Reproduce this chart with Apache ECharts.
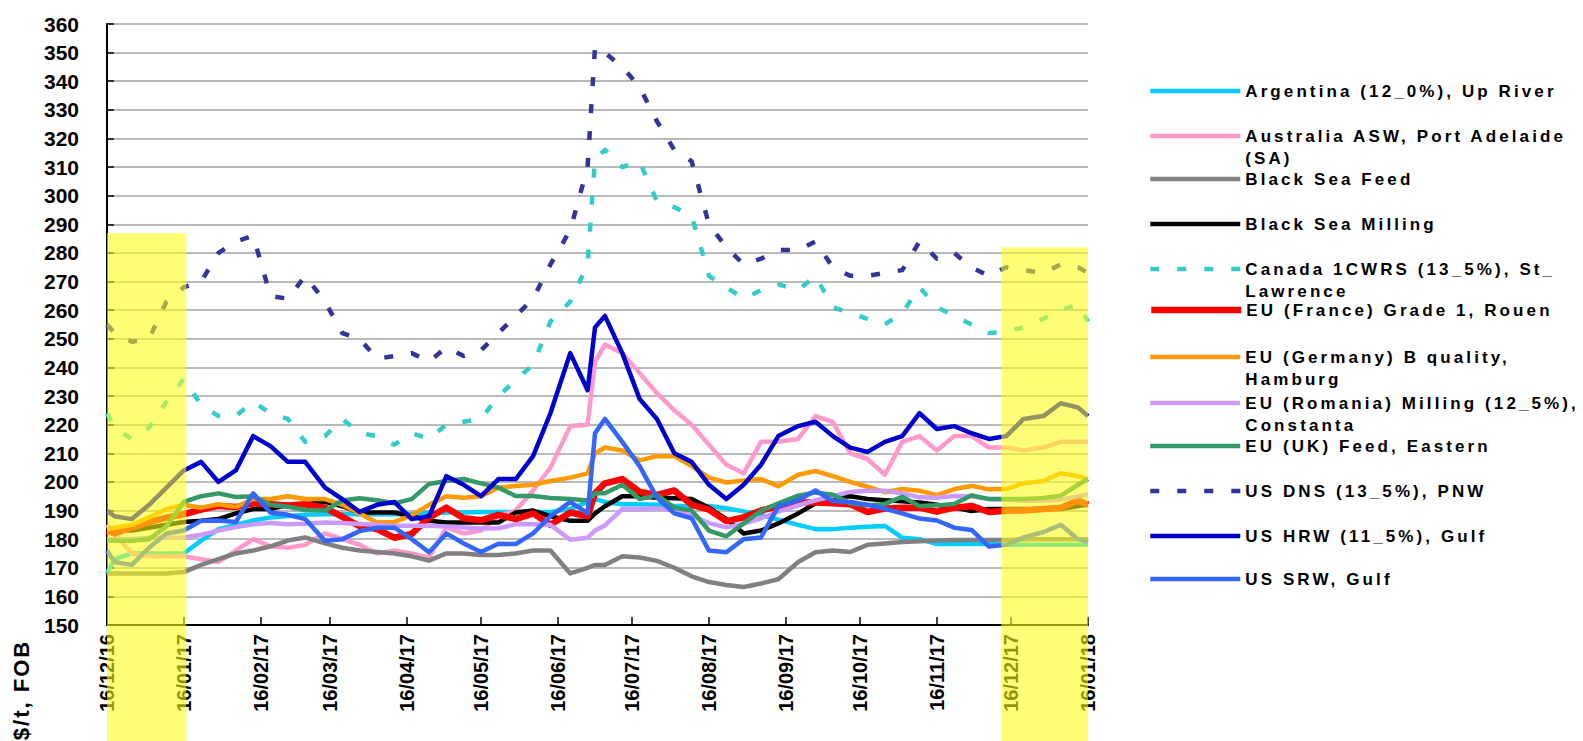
<!DOCTYPE html>
<html><head><meta charset="utf-8">
<script src="https://cdn.jsdelivr.net/npm/echarts@6/dist/echarts.min.js"></script>
<style>
html,body{margin:0;padding:0;background:#fff;}
#chart{width:1583px;height:741px;}
#chart svg text[style*="17px"]{letter-spacing:3.1px;}
#chart svg text[style*="22px"]{letter-spacing:2px;}
</style></head><body><div id="chart"></div>
<script>
// ---------- DATA ----------
const dates = ['2016-12-16','2016-12-19','2016-12-26','2017-01-02','2017-01-09','2017-01-16','2017-01-23','2017-01-30','2017-02-06','2017-02-13','2017-02-20','2017-02-27','2017-03-06','2017-03-14','2017-03-21','2017-03-28','2017-04-04','2017-04-11','2017-04-18','2017-04-25','2017-05-02','2017-05-09','2017-05-16','2017-05-23','2017-05-30','2017-06-06','2017-06-13','2017-06-21','2017-06-28','2017-07-01','2017-07-05','2017-07-12','2017-07-19','2017-07-26','2017-08-02','2017-08-09','2017-08-16','2017-08-23','2017-08-30','2017-09-06','2017-09-13','2017-09-21','2017-09-28','2017-10-05','2017-10-12','2017-10-19','2017-10-26','2017-11-02','2017-11-09','2017-11-16','2017-11-23','2017-11-30','2017-12-07','2017-12-14','2017-12-21','2017-12-29','2018-01-05','2018-01-12','2018-01-16'];

const tickDates = ['2016-12-16','2017-01-16','2017-02-16','2017-03-16','2017-04-16','2017-05-16','2017-06-16','2017-07-16','2017-08-16','2017-09-16','2017-10-16','2017-11-16','2017-12-16','2018-01-16'];

const names = ['Argentina (12_0%), Up River','Australia ASW, Port Adelaide (SA)','Black Sea Feed','Black Sea Milling','Canada 1CWRS (13_5%), St_ Lawrence','EU (France) Grade 1, Rouen','EU (Germany) B quality, Hamburg','EU (Romania) Milling (12_5%), Constanta','EU (UK) Feed, Eastern','US DNS (13_5%), PNW','US HRW (11_5%), Gulf','US SRW, Gulf'];

const legendLabels = ['Argentina (12_0%), Up River','\nAustralia ASW, Port Adelaide\n(SA)','Black Sea Feed','Black Sea Milling','\nCanada 1CWRS (13_5%), St_\nLawrence','EU (France) Grade 1, Rouen','\nEU (Germany) B quality,\nHamburg','\nEU (Romania) Milling (12_5%),\nConstanta','EU (UK) Feed, Eastern','US DNS (13_5%), PNW','US HRW (11_5%), Gulf','US SRW, Gulf'];

const argentina = [168,173,175,175,175,175,179.5,183.5,185,186.5,187.6,188.1,188.5,188.7,188.7,188.7,188.7,188.7,188.7,189.3,189.3,189.3,189.5,189.5,189.5,189.5,189.5,190.5,193,194,193,192.2,192.2,192,191.6,191.6,191.6,190.8,189.7,188.5,186.8,185,183.5,183.5,184,184.3,184.6,180.5,180,178.3,178.3,178.3,178.3,178,178,178,178,178,178];
const australia = [185,182,175,174,174,174,173,172,176,180,177.5,177,178,182,180,178,175,176,175,173.5,184,182,183,188,190,197,205,219.5,220,242,248,245,238,231,225,220,213,206,203,214,214,215,223,221,210,208,202.5,214,216,211,216,216,212,212,211,212,214,214,214];
const blackSeaFeed = [168,168,168,168,168,168.5,171,173,175,176,177.5,179.5,180.6,178.5,177,176,175.5,175,174,172.5,175,175,174.5,174.5,175,176,176,168,170,171,171,174,173.6,172.4,170,167,165,164,163.3,164.5,166,172,175.4,176,175.5,178,178.5,179,179.3,179.5,179.7,179.7,179.7,179.7,180,180,180,180,180];
const blackSeaMilling = [183,183,183,184,185,186,186.4,187,189,190.5,190.5,192,192.2,193,191.5,189.3,189.3,189.3,188,186.4,185.8,185.8,185.8,185.8,189.3,190,188,186.4,186.4,189,191.5,195,195,194.5,194.3,194,191,187,182,183,185.5,189,192.5,194.8,195,194,193.6,193.2,192.8,192,191,189.8,190.5,190.5,190.5,190.5,190.5,191.6,192];
const canada = [224,219,215,219,228,236,227,223,223,228,224,222,214,216,222,217,216,213,217,215,220,221,222,230,235.5,241,256,263,276,313,316,310,312,298,296,293,272,268,264,267,269,267,272,261,259,257,255,259,268,261,258,255,252,252.5,254,257,260,262,256];
const euFrance = [183,182,184,186,187.5,188.7,190.3,191.6,191.2,192.5,192.2,191.8,192.2,191,187.8,184.5,183.5,180.5,181.8,187.5,191,187.3,186.6,188.5,187,189,185,189.3,188,196,199.5,201,196.5,195.5,197,192,190.3,186.3,187.6,190,191.5,192.8,192.8,192.5,192.2,189.5,190.7,191,191,189.6,191,191.6,189.5,189.9,190,190.5,191,193.5,192];
const euGermany = [183.5,184,185,187.6,190.5,192,191,192.2,191.2,194,194,195,194,194,192,189,185.8,186,188.3,192,195,194.5,195,198,198.6,199,200.3,201.5,203,210,212,211,207.5,209,209,205.5,201.5,199.8,200.5,201,198.5,202.5,203.8,202,200,198.3,196.4,197.5,196.9,195.4,197.5,198.6,197.4,197.5,199.5,200.3,203,202,201];
const euRomania = [180,180,180,180.5,180.5,180.6,181.5,183,184.2,185.2,185.6,185.2,185.4,185.8,185.6,185.3,185,184.7,184.7,184.7,184.4,184.1,183.7,183.8,185.2,185.2,185,179.8,180.5,183,184.8,190.5,190.5,190.8,190,188.3,185.6,184.1,185.4,187.3,189.6,191.8,193.6,195,196.5,196.9,196.9,196,194.6,194.5,195.1,195,194,193.8,193.4,193.4,193.8,195,195.7];
const euUK = [179.5,179.4,179.4,180,184.5,193,195,196,194.7,195,192,191.3,190.2,190,193.5,194.3,193.6,192.5,194,199.3,200.3,201,199.5,198,195.1,195.1,194.4,194,193.5,196,196,199,194,195.4,191,190,183,181,185.5,189.9,192.5,195.2,196.3,195.5,192.5,191.8,192.3,194.8,191.6,191.8,192.3,195.3,194,194,194,194.4,195.2,199,201];
const usDNS = [255,252,249,250,263,268,270,280,284,286,265,264,272,263,252,250,243,244,245,242,247,244,246,252,258,264,276,288,310,352,350,345,338,326,316,312,290,282,276,278,281,281,284,275,272,272,273,274,284,278,280,275,272,275,274,273,276,275,273];
const usHRW = [190,188,187,192,198,204,207,200,204,216,212.5,207,207,198,194,189.5,192,193,187,188,202,199,195,201,201,209,224,245,232,254,258,245,229,222,210,207,199,194,199,206,216,219.5,221,216,212,210.5,214,216,224,218.5,219.5,217,215,216,222,223,227.5,226,223];
const usSRW = [176,172,171,177,182,183,186.4,186.5,186,196,189.3,188.5,187,179.4,180,182.8,184,184,180,175.4,182,178.5,175.5,178.4,178.3,182,188,193,189,217,222,214,205.5,194.5,189,187.3,176,175.4,180,180.6,191.5,193.6,197,193.3,193,192,190.6,189,187.2,186.5,184,183.2,177.4,178,180.6,182.5,185,180,179];

// highlighted periods
const highlightFrom = ['2016-12-16','2017-12-12'];
const highlightTo = ['2017-01-17','2018-01-16'];
const highlightTop = [287, 282];

// ---------- STYLE / LAYOUT ----------
const seriesValues = [argentina,australia,blackSeaFeed,blackSeaMilling,canada,euFrance,euGermany,euRomania,euUK,usDNS,usHRW,usSRW];
const styles = [
  {color:'#00CCFF', width:4.5},
  {color:'#FF99CC', width:4.5},
  {color:'#808080', width:4.5},
  {color:'#000000', width:4.5},
  {color:'#33CCCC', width:4.5, dash:[9,18]},
  {color:'#FF0000', width:6.5},
  {color:'#FF9900', width:4.5},
  {color:'#CC99FF', width:4.5},
  {color:'#339966', width:4.5},
  {color:'#333399', width:4.5, dash:[9,18]},
  {color:'#0000CC', width:4.5},
  {color:'#3366FF', width:4.5}
];
const legendIconY = [91,136,179,224,269,310,357,403,446,491,536,579];
const FONT = '"Liberation Sans", Arial, sans-serif';

const utc = s => { const p = s.split('-'); return Date.UTC(+p[0], +p[1]-1, +p[2]); };
const ORIGIN = utc(dates[0]);
const dayOf = s => Math.round((utc(s) - ORIGIN) / 86400000);
const pad = n => (n < 10 ? '0' : '') + n;
const fmtDay = v => { const d = new Date(ORIGIN + Math.round(v) * 86400000); return pad(d.getUTCDate()) + '/' + pad(d.getUTCMonth()+1) + '/' + pad(d.getUTCFullYear() % 100); };
const tickDays = tickDates.map(dayOf);

const series = names.map((n, i) => ({
  type:'line', name:n, symbol:'none', showSymbol:false, animation:false, z:2,
  color: styles[i].color,
  lineStyle:{color:styles[i].color, width:styles[i].width, type:styles[i].dash || 'solid', join:'round'},
  data: dates.map((d, k) => [dayOf(d), seriesValues[i][k]])
}));
series.push({
  type:'line', name:'highlight', data:[], silent:true, clip:false, z:10, animation:false,
  markArea:{silent:true, z:10, itemStyle:{color:'rgba(255,255,20,0.58)'},
    data: highlightFrom.map((f, i) => [{xAxis: dayOf(f), yAxis: highlightTop[i]}, {xAxis: dayOf(highlightTo[i]), y: '100%'}])}
});

const legend = names.map((n, i) => ({
  show:true, orient:'vertical', left:1148,
  top: legendIconY[i] - (legendLabels[i].charAt(0) === '\n' ? 33 : 11),
  padding:0, itemWidth:90, itemHeight:14, itemGap:0, selectedMode:false,
  data:[n], formatter: () => legendLabels[i],
  itemStyle:{opacity:0},
  lineStyle:{width: styles[i].width, color: styles[i].color, type: styles[i].dash || 'solid'},
  textStyle:{fontFamily:FONT, fontWeight:'bold', fontSize:17, color:'#000', lineHeight:22}
}));

const chart = echarts.init(document.getElementById('chart'), null, {renderer:'svg', width:1583, height:741});
chart.setOption({
  animation:false,
  backgroundColor:'#fff',
  grid:{left:107, right:495, top:24, bottom:116, containLabel:false},
  xAxis:{
    type:'value', min:0, max:dayOf(tickDates[tickDates.length-1]),
    axisLine:{show:true, onZero:false, lineStyle:{color:'#000', width:2}},
    axisTick:{show:true, inside:true, length:8, customValues:tickDays, lineStyle:{color:'#000', width:1.5}},
    axisLabel:{customValues:tickDays, rotate:90, margin:9, hideOverlap:false, formatter: v => fmtDay(v),
      fontFamily:FONT, fontWeight:'bold', fontSize:20, color:'#000'},
    splitLine:{show:false}
  },
  yAxis:{
    type:'value', min:150, max:360, interval:10,
    axisLine:{show:true, lineStyle:{color:'#000', width:2}},
    axisTick:{show:true, inside:true, length:7, lineStyle:{color:'#000', width:1.5}},
    axisLabel:{fontFamily:FONT, fontWeight:'bold', fontSize:21, color:'#000', margin:28},
    splitLine:{show:true, lineStyle:{color:'#a3a3a3', width:1.5}}
  },
  legend: legend,
  graphic:[{type:'text', x:21, y:690, rotation:Math.PI/2, silent:true,
    style:{text:'$/t, FOB', font:'bold 22px "Liberation Sans", Arial, sans-serif', fill:'#000', align:'center', verticalAlign:'middle'}}],
  series: series
});
</script></body></html>
